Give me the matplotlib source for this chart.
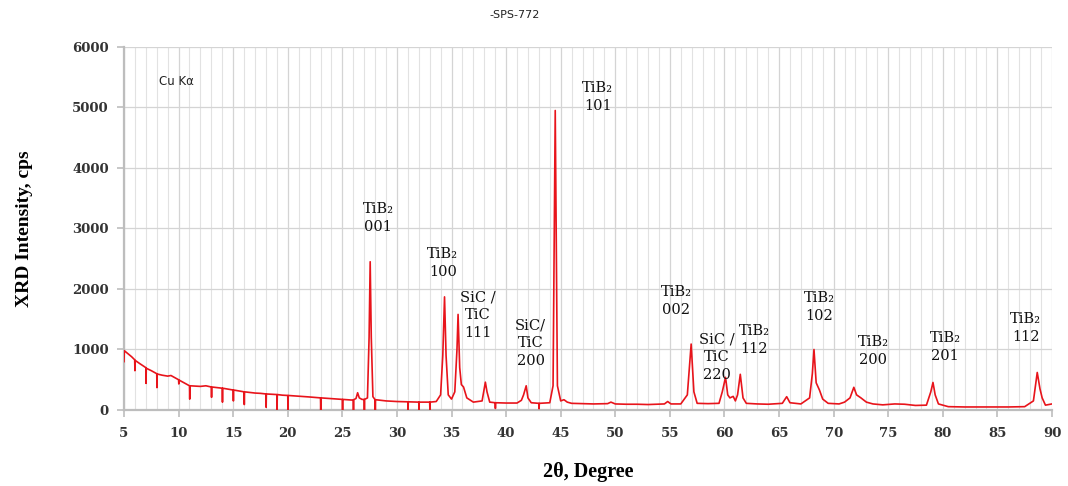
import matplotlib
matplotlib.use("Agg")
import matplotlib.pyplot as plt
from matplotlib.ticker import MultipleLocator

# ---- data ----
two_theta = [
    5.0, 5.03, 5.3, 5.7, 5.98, 6.0, 6.02, 6.5, 7.0, 7.02, 7.04, 7.5, 8.0, 8.02, 8.04,
    8.5, 9.0, 9.3, 9.7, 10.0, 10.02, 10.04, 10.5, 10.9, 11.0, 11.02, 11.04, 11.5, 12.0,
    12.5, 13.0, 13.02, 13.04, 13.5, 14.0, 14.02, 14.04, 14.5, 15.0, 15.02, 15.04, 15.5,
    16.0, 16.02, 16.04, 16.5, 17.0, 17.5, 18.0, 18.02, 18.04, 18.5, 19.0, 19.02, 19.04,
    19.5, 20.0, 20.02, 20.04, 21.0, 22.0, 23.0, 23.02, 23.04, 24.0, 25.0, 25.02, 25.04,
    25.8, 26.0, 26.02, 26.04, 26.25, 26.4, 26.55, 26.8, 27.0, 27.02, 27.04, 27.3, 27.45,
    27.55, 27.65, 27.8, 28.0, 28.02, 28.04, 29.0, 30.0, 31.0, 31.02, 31.04, 32.0, 32.02,
    32.04, 33.0, 33.02, 33.04, 33.6, 34.0, 34.2, 34.36, 34.5, 34.7, 35.0, 35.3, 35.5,
    35.6, 35.75, 35.9, 36.1, 36.4, 37.0, 37.8, 38.1, 38.25, 38.5, 39.0, 39.02, 39.04,
    40.0, 41.0, 41.4, 41.6, 41.84, 42.0, 42.3, 43.0, 43.02, 43.04, 44.0, 44.3, 44.5,
    44.7, 45.0, 45.3, 45.6, 46.0, 47.0, 48.0, 49.3, 49.6, 50.0, 51.0, 52.0, 53.0, 54.5,
    54.8, 55.1, 56.0, 56.6, 56.95, 57.2, 57.5, 58.5, 59.5, 59.8, 60.1, 60.3, 60.5, 60.8,
    61.0, 61.2, 61.45, 61.7, 62.0, 63.0, 64.0, 65.3, 65.7, 66.0, 67.0, 67.8, 68.05, 68.2,
    68.4, 68.7, 69.0, 69.5, 70.5, 71.0, 71.5, 71.85, 72.1, 72.5, 73.0, 73.6, 74.5, 75.6,
    76.5, 77.5, 78.5, 78.9, 79.1, 79.3, 79.6, 80.5, 82.0, 84.0, 86.0, 87.5, 88.3, 88.65,
    88.9, 89.1, 89.4, 90.0,
]
intensity = [
    800, 980, 940, 880, 830, 650, 820, 760, 700, 440, 690, 650, 600, 370, 595,
    575, 560, 570, 530, 500, 430, 495, 450, 410, 400, 180, 400, 395, 390,
    400, 380, 210, 380, 370, 360, 130, 360, 345, 330, 150, 330, 315,
    300, 90, 300, 290, 280, 275, 265, 45, 265, 260, 255, 0, 255,
    245, 240, 0, 240, 228, 215, 200, 0, 200, 188, 175, 0, 175,
    165, 165, 0, 170, 190, 285, 200, 175, 175, 0, 175, 200, 1200,
    2450, 1200, 220, 170, 0, 170, 150, 140, 135, 0, 135, 130, 0,
    130, 130, 0, 130, 140, 250, 900, 1870, 900, 250, 180, 300, 1000,
    1580, 700, 420, 380, 200, 130, 150, 460, 300, 130, 120, 25, 120,
    115, 115, 160, 250, 400, 200, 120, 110, 20, 110, 120, 400, 4950,
    400, 150, 170, 130, 110, 105, 100, 105, 130, 100, 95, 95, 90, 100,
    140, 100, 100, 250, 1090, 300, 110, 105, 110, 300, 540, 250, 200, 225,
    150, 250, 590, 200, 110, 100, 95, 110, 220, 120, 100, 200, 600, 1000,
    450, 330, 180, 110, 100, 130, 200, 375, 250, 200, 130, 100, 85, 100,
    95, 75, 80, 300, 455, 250, 100, 55, 50, 50, 50, 55, 150, 620,
    350, 200, 80, 100,
]

label_texts = ["TiB\u2082\n001", "TiB\u2082\n100", "SiC /\nTiC\n111", "SiC/\nTiC\n200",
               "TiB\u2082\n101", "TiB\u2082\n002", "SiC /\nTiC\n220", "TiB\u2082\n112",
               "TiB\u2082\n102", "TiB\u2082\n200", "TiB\u2082\n201", "TiB\u2082\n112"]
label_x = [28.3, 34.2, 37.4, 42.25, 48.4, 55.6, 59.3, 62.7, 68.7, 73.6, 80.2, 87.6]
label_y = [3170, 2430, 1570, 1105, 5180, 1800, 875, 1155, 1700, 975, 1040, 1350]

x_ticks = list(range(5, 91, 5))
y_ticks = list(range(0, 6001, 1000))

# ---- figure ----
fig = plt.figure(figsize=(10.68, 4.86), dpi=100)
ax = fig.add_axes([0.1161, 0.1564, 0.985 - 0.1161, 0.9033 - 0.1564])

ax.plot(two_theta, intensity, color="#e8141b", lw=1.2, zorder=3)

ax.set_xlim(5, 90)
ax.set_ylim(0, 6000)
ax.set_xticks(x_ticks)
ax.set_yticks(y_ticks)
ax.xaxis.set_minor_locator(MultipleLocator(1))

ax.grid(True, which="major", axis="both", color="#d4d4d4", lw=0.9, zorder=0)
ax.grid(True, which="minor", axis="x", color="#e2e2e2", lw=0.8, zorder=0)

for s in ["top", "right"]:
    ax.spines[s].set_visible(False)
for s in ["left", "bottom"]:
    ax.spines[s].set_color("#bdbdbd")
    ax.spines[s].set_linewidth(1.6)

ax.tick_params(axis="both", which="major", length=5, color="#bdbdbd", width=1.2,
               labelcolor="#333333")
ax.tick_params(axis="x", which="major", pad=7)
ax.tick_params(axis="y", which="major", pad=6)
ax.tick_params(axis="x", which="minor", length=0)
for lab in ax.get_xticklabels() + ax.get_yticklabels():
    lab.set_fontfamily("DejaVu Serif")
    lab.set_fontweight("bold")
    lab.set_fontsize(9.5)

ax.set_ylabel("XRD Intensity, cps", fontfamily="Liberation Serif", fontweight="bold",
              fontsize=14, labelpad=28)
ax.set_xlabel("2\u03b8, Degree", fontfamily="Liberation Serif", fontweight="bold",
              fontsize=14.5, labelpad=16)

for t, x, y in zip(label_texts, label_x, label_y):
    ax.text(x, y, t, ha="center", va="center", fontfamily="DejaVu Serif",
            fontsize=10.5, linespacing=1.35, color="#111111", zorder=4)

ax.text(0.038, 0.905, "Cu K\u03b1", transform=ax.transAxes, fontfamily="DejaVu Sans",
        fontsize=8.5, ha="left", va="center", color="#222222")

fig.text(515 / 1068, 1 - 15 / 486, "-SPS-772", ha="center", va="center",
         fontfamily="DejaVu Sans", fontsize=8, color="#222222")

fig.savefig("out.png", dpi=100)
